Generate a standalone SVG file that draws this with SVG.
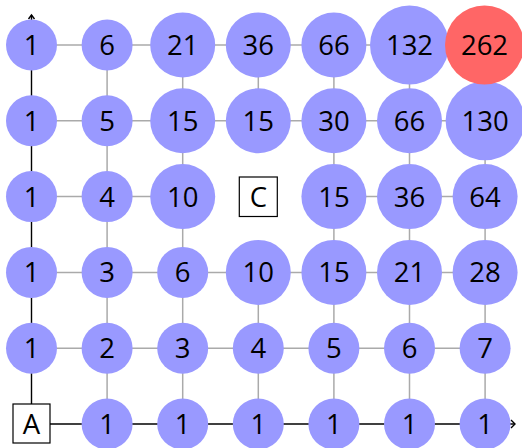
<svg xmlns="http://www.w3.org/2000/svg" width="522" height="448" viewBox="0 0 522 448">
<style>
.g{stroke:#aaaaaa;stroke-width:1.5;fill:none}
.ax{stroke:#000;stroke-width:1.4;fill:none}
.n{fill:#9999ff}
.r{fill:#ff6666}
.b{fill:#fff;stroke:#000;stroke-width:1.2}
text{font-family:"Open Sans","Liberation Sans",Arial,sans-serif;font-size:27.5px;fill:#000;text-anchor:middle}
</style>
<rect width="522" height="448" fill="#fff"/>
<g id="connectors">
<line class="g" x1="31.5" y1="45" x2="485.1" y2="45"/>
<line class="g" x1="31.5" y1="120.8" x2="485.1" y2="120.8"/>
<line class="g" x1="31.5" y1="196.6" x2="182.7" y2="196.6"/>
<line class="g" x1="333.9" y1="196.6" x2="485.1" y2="196.6"/>
<line class="g" x1="31.5" y1="272.4" x2="485.1" y2="272.4"/>
<line class="g" x1="31.5" y1="348.2" x2="485.1" y2="348.2"/>
<line class="g" x1="107.1" y1="45" x2="107.1" y2="424"/>
<line class="g" x1="182.7" y1="45" x2="182.7" y2="424"/>
<line class="g" x1="258.3" y1="45" x2="258.3" y2="120.8"/>
<line class="g" x1="258.3" y1="272.4" x2="258.3" y2="424"/>
<line class="g" x1="333.9" y1="45" x2="333.9" y2="424"/>
<line class="g" x1="409.5" y1="45" x2="409.5" y2="424"/>
<line class="g" x1="485.1" y1="45" x2="485.1" y2="424"/>
<line class="ax" x1="31.5" y1="404" x2="31.5" y2="15"/>
<path class="ax" d="M28.5,19 L31.5,15 L34.5,19"/>
<line class="ax" x1="50" y1="424" x2="515" y2="424"/>
<path class="ax" d="M511,420 L515,424 L511,428"/>
</g>
<g id="n0_0"><circle class="n" cx="31.5" cy="45" r="25.5"/><text x="31.5" y="55">1</text></g>
<g id="n0_1"><circle class="n" cx="107.1" cy="45" r="25.5"/><text x="107.1" y="55">6</text></g>
<g id="n0_2"><circle class="n" cx="182.7" cy="45" r="32.5"/><text x="182.7" y="55">21</text></g>
<g id="n0_3"><circle class="n" cx="258.3" cy="45" r="32.5"/><text x="258.3" y="55">36</text></g>
<g id="n0_4"><circle class="n" cx="333.9" cy="45" r="32.5"/><text x="333.9" y="55">66</text></g>
<g id="n0_5"><circle class="n" cx="409.5" cy="45" r="39.5"/><text x="409.5" y="55">132</text></g>
<g id="n1_0"><circle class="n" cx="31.5" cy="120.8" r="25.5"/><text x="31.5" y="130.8">1</text></g>
<g id="n1_1"><circle class="n" cx="107.1" cy="120.8" r="25.5"/><text x="107.1" y="130.8">5</text></g>
<g id="n1_2"><circle class="n" cx="182.7" cy="120.8" r="32.5"/><text x="182.7" y="130.8">15</text></g>
<g id="n1_3"><circle class="n" cx="258.3" cy="120.8" r="32.5"/><text x="258.3" y="130.8">15</text></g>
<g id="n1_4"><circle class="n" cx="333.9" cy="120.8" r="32.5"/><text x="333.9" y="130.8">30</text></g>
<g id="n1_5"><circle class="n" cx="409.5" cy="120.8" r="32.5"/><text x="409.5" y="130.8">66</text></g>
<g id="n1_6"><circle class="n" cx="485.1" cy="120.8" r="39.5"/><text x="485.1" y="130.8">130</text></g>
<g id="n2_0"><circle class="n" cx="31.5" cy="196.6" r="25.5"/><text x="31.5" y="206.6">1</text></g>
<g id="n2_1"><circle class="n" cx="107.1" cy="196.6" r="25.5"/><text x="107.1" y="206.6">4</text></g>
<g id="n2_2"><circle class="n" cx="182.7" cy="196.6" r="32.5"/><text x="182.7" y="206.6">10</text></g>
<g id="C"><rect class="b" x="239.3" y="177" width="38" height="39.5"/><text x="258.3" y="206.6">C</text></g>
<g id="n2_4"><circle class="n" cx="333.9" cy="196.6" r="32.5"/><text x="333.9" y="206.6">15</text></g>
<g id="n2_5"><circle class="n" cx="409.5" cy="196.6" r="32.5"/><text x="409.5" y="206.6">36</text></g>
<g id="n2_6"><circle class="n" cx="485.1" cy="196.6" r="32.5"/><text x="485.1" y="206.6">64</text></g>
<g id="n3_0"><circle class="n" cx="31.5" cy="272.4" r="25.5"/><text x="31.5" y="282.4">1</text></g>
<g id="n3_1"><circle class="n" cx="107.1" cy="272.4" r="25.5"/><text x="107.1" y="282.4">3</text></g>
<g id="n3_2"><circle class="n" cx="182.7" cy="272.4" r="25.5"/><text x="182.7" y="282.4">6</text></g>
<g id="n3_3"><circle class="n" cx="258.3" cy="272.4" r="32.5"/><text x="258.3" y="282.4">10</text></g>
<g id="n3_4"><circle class="n" cx="333.9" cy="272.4" r="32.5"/><text x="333.9" y="282.4">15</text></g>
<g id="n3_5"><circle class="n" cx="409.5" cy="272.4" r="32.5"/><text x="409.5" y="282.4">21</text></g>
<g id="n3_6"><circle class="n" cx="485.1" cy="272.4" r="32.5"/><text x="485.1" y="282.4">28</text></g>
<g id="n4_0"><circle class="n" cx="31.5" cy="348.2" r="25.5"/><text x="31.5" y="358.2">1</text></g>
<g id="n4_1"><circle class="n" cx="107.1" cy="348.2" r="25.5"/><text x="107.1" y="358.2">2</text></g>
<g id="n4_2"><circle class="n" cx="182.7" cy="348.2" r="25.5"/><text x="182.7" y="358.2">3</text></g>
<g id="n4_3"><circle class="n" cx="258.3" cy="348.2" r="25.5"/><text x="258.3" y="358.2">4</text></g>
<g id="n4_4"><circle class="n" cx="333.9" cy="348.2" r="25.5"/><text x="333.9" y="358.2">5</text></g>
<g id="n4_5"><circle class="n" cx="409.5" cy="348.2" r="25.5"/><text x="409.5" y="358.2">6</text></g>
<g id="n4_6"><circle class="n" cx="485.1" cy="348.2" r="25.5"/><text x="485.1" y="358.2">7</text></g>
<g id="A"><rect class="b" x="13" y="404" width="37" height="39"/><text x="31.5" y="434">A</text></g>
<g id="n5_1"><circle class="n" cx="107.1" cy="424" r="25.5"/><text x="107.1" y="434">1</text></g>
<g id="n5_2"><circle class="n" cx="182.7" cy="424" r="25.5"/><text x="182.7" y="434">1</text></g>
<g id="n5_3"><circle class="n" cx="258.3" cy="424" r="25.5"/><text x="258.3" y="434">1</text></g>
<g id="n5_4"><circle class="n" cx="333.9" cy="424" r="25.5"/><text x="333.9" y="434">1</text></g>
<g id="n5_5"><circle class="n" cx="409.5" cy="424" r="25.5"/><text x="409.5" y="434">1</text></g>
<g id="n5_6"><circle class="n" cx="485.1" cy="424" r="25.5"/><text x="485.1" y="434">1</text></g>
<g id="n0_6"><circle class="r" cx="484.5" cy="45" r="39.5"/><text x="484.5" y="55">262</text></g>
</svg>
